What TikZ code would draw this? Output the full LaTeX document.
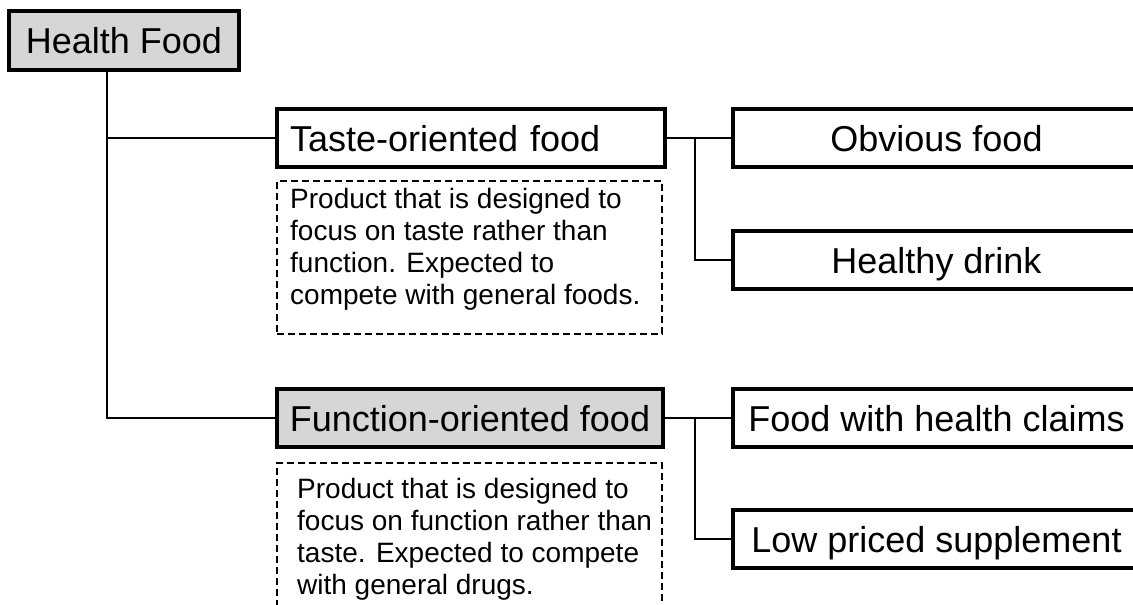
\documentclass[tikz,border=0pt]{standalone}
\usepackage{fontspec}
\setmainfont{Liberation Sans}
\definecolor{halftone}{gray}{0.84}
\begin{document}
\begin{tikzpicture}[x=1pt,y=-1pt,
  box/.style={draw, line width=3.5pt, inner sep=0pt, minimum height=58pt,
    text height=26pt, text depth=0pt, font=\fontsize{36}{43}\selectfont},
  wide/.style={box, minimum width=407pt},
  shaded/.style={fill=halftone},
  note/.style={draw, dash pattern=on 7pt off 4pt, line width=2pt, inner sep=0pt},
  notetext/.style={anchor=north west, inner sep=0pt, align=left,
    font=\fontsize{28}{32}\selectfont},
  link/.style={line width=2pt}]
\useasboundingbox (0,0) rectangle (1133,605);
\clip (0,0) rectangle (1133,605);
\fill[white] (0,0) rectangle (1133,605);

% root
\node[box, shaded, minimum width=230pt, minimum height=59pt] (hf) at (124,40.5) {Health Food};

% second level
\node[box, text width=362pt, inner xsep=13pt, align=left] (taste) at (471,138) {Taste-oriented food};
\node[box, shaded, minimum width=386pt] (func) at (470,418) {Function-oriented food};

% notes
\node[note, minimum width=385pt, minimum height=153pt] (tnote) at (469.5,257.5) {};
\node[notetext] (ttext) at (290,188) {Product that is designed to\\focus on taste rather than\\function. Expected to\\compete with general foods.};
\node[note, minimum width=385pt, minimum height=160pt] (fnote) at (469.5,543) {};
\node[notetext] (ftext) at (297,478) {Product that is designed to\\focus on function rather than\\taste. Expected to compete\\with general drugs.};

% third level
\node[wide] (obv) at (936.5,138) {Obvious food};
\node[wide] (drink) at (936.5,260) {Healthy drink};
\node[wide] (claims) at (936.5,418) {Food with health claims};
\node[wide] (low) at (936.5,539) {Low priced supplement};

% connectors
\coordinate (tk) at (107,0);
\coordinate (rj) at (695,0);
\draw[link] (hf.south -| tk) |- (taste.west);
\draw[link] (hf.south -| tk) |- (func.west);
\draw[link] (taste.east) -- (obv.west);
\draw[link] (taste.east -| rj) |- (drink.west);
\draw[link] (func.east) -- (claims.west);
\draw[link] (func.east -| rj) |- (low.west);
\end{tikzpicture}
\end{document}
